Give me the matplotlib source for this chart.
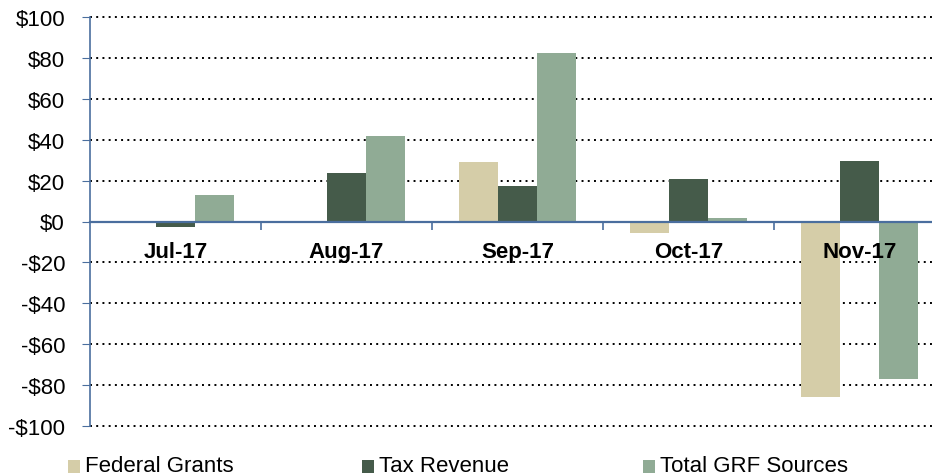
import matplotlib
matplotlib.use("Agg")
import matplotlib.pyplot as plt
import numpy as np
from matplotlib.patches import Rectangle
from matplotlib.ticker import FixedLocator

plt.rcParams["font.family"] = ["Liberation Sans", "DejaVu Sans"]

MONTHS = ["Jul-17", "Aug-17", "Sep-17", "Oct-17", "Nov-17"]
FEDERAL_GRANTS = [0.0, 0.3, 29.0, -5.5, -85.7]
TAX_REVENUE = [-2.5, 23.8, 17.6, 21.0, 29.5]
TOTAL_GRF = [13.0, 42.0, 82.5, 1.8, -77.0]
Y_TICKS = [-100, -80, -60, -40, -20, 0, 20, 40, 60, 80, 100]

SERIES = [
    ("Federal Grants", FEDERAL_GRANTS, "#D5CDA8"),
    ("Tax Revenue", TAX_REVENUE, "#455B4A"),
    ("Total GRF Sources", TOTAL_GRF, "#90AB95"),
]
AXIS_BLUE = "#4A6E9E"
FS = 16

fig = plt.figure(figsize=(9.32, 4.77), dpi=100)
ax = fig.add_axes([90 / 932, 1 - 427 / 477, 855 / 932, 409 / 477])
ax.set_axisbelow(False)

x = np.arange(len(MONTHS))
width = 0.228
for i, (name, values, color) in enumerate(SERIES):
    ax.bar(x + (i - 1) * width, values, width, color=color, label=name, zorder=2)

ax.set_xlim(-0.5, len(MONTHS) - 0.5)
ax.set_ylim(-100, 100)

# dotted gridlines except at zero
for y in Y_TICKS:
    if y != 0:
        ax.axhline(y, color="black", linestyle=(0, (1, 2.2)), linewidth=1.4,
                   zorder=1, clip_on=False)

for side in ["top", "right"]:
    ax.spines[side].set_visible(False)
ax.spines["left"].set_color(AXIS_BLUE)
ax.spines["left"].set_linewidth(1.2)
ax.spines["bottom"].set_position(("data", 0))
ax.spines["bottom"].set_color(AXIS_BLUE)
ax.spines["bottom"].set_linewidth(1.6)

ax.set_yticks(Y_TICKS)
ax.set_yticklabels([f"-${abs(v)}" if v < 0 else f"${v}" for v in Y_TICKS])
ax.tick_params(axis="y", direction="out", length=6, color=AXIS_BLUE, labelsize=FS, pad=12)

ax.set_xticks(x)
ax.set_xticklabels(MONTHS, fontweight="bold")
ax.tick_params(axis="x", which="major", length=0, labelsize=FS, pad=14)
ax.xaxis.set_minor_locator(FixedLocator(x[:-1] + 0.5))
ax.tick_params(axis="x", which="minor", direction="out", length=6, color=AXIS_BLUE, width=1.2)

# legend drawn by hand to match the spacing of the original
legend_x = [68, 362, 643]
for (name, _, color), lx in zip(SERIES, legend_x):
    fig.patches.append(Rectangle((lx / 932, 1 - 474 / 477), 12 / 932, 13 / 477,
                                 transform=fig.transFigure, facecolor=color,
                                 edgecolor="none"))
    fig.text((lx + 17) / 932, 1 - 467 / 477, name, fontsize=FS, va="center", ha="left")

fig.savefig("out.png", dpi=100)
